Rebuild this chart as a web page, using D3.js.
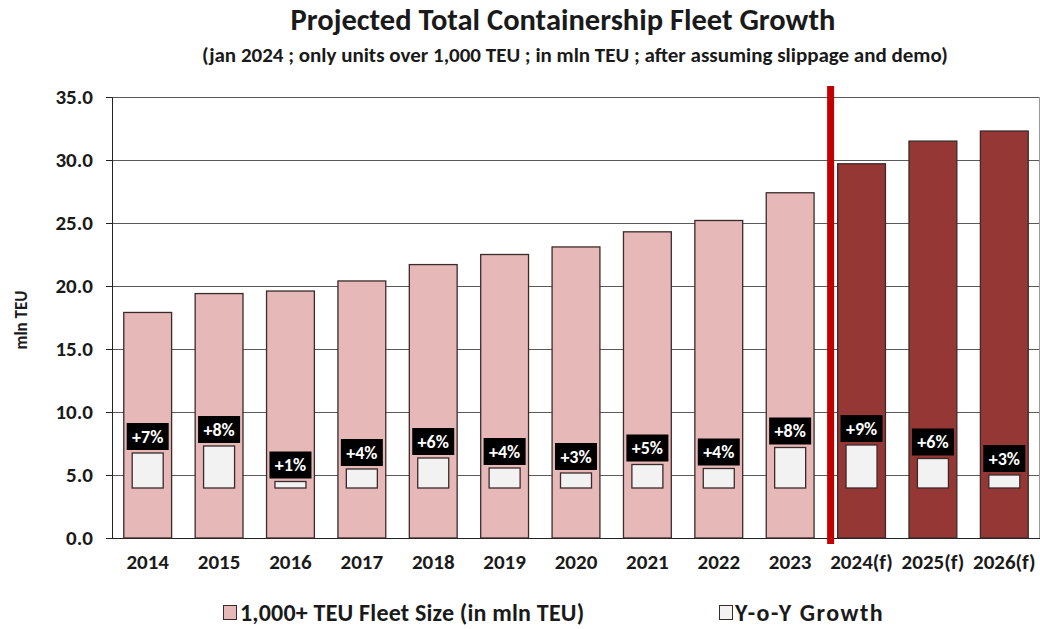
<!DOCTYPE html>
<html>
<head>
<meta charset="utf-8">
<script src="https://cdn.jsdelivr.net/npm/d3@7"></script>
<style>
  html, body { margin: 0; padding: 0; background: #fff; }
  svg { display: block; font-family: Carlito, Lato, "Open Sans", sans-serif; }
</style>
</head>
<body>
<svg id="chart" width="1040" height="629"></svg>
<script>
const categories = ["2014","2015","2016","2017","2018","2019","2020","2021","2022","2023","2024(f)","2025(f)","2026(f)"];
const fleetSize = [17.9, 19.4, 19.6, 20.4, 21.7, 22.5, 23.1, 24.3, 25.2, 27.4, 29.7, 31.5, 32.3];
const growth = [7.0, 8.4, 1.3, 3.8, 6.0, 4.0, 3.0, 4.7, 3.9, 8.1, 8.6, 5.9, 2.6];
const forecast = [false,false,false,false,false,false,false,false,false,false,true,true,true];
const yTicks = [0, 5, 10, 15, 20, 25, 30, 35];
const titleText = "Projected Total Containership Fleet Growth";
const subtitleText = "(jan 2024 ; only units over 1,000 TEU ; in mln TEU ; after assuming slippage and demo)";
const yAxisTitle = "mln TEU";
const legendItems = ["1,000+ TEU Fleet Size (in mln TEU)", "Y-o-Y Growth"];

const svg = d3.select("#chart");
const pL = 112, pR = 1040, pT = 97, pB = 538;

const x = d3.scaleBand().domain(categories).range([pL, pR]).paddingInner(0.33).paddingOuter(0.165);
const y = d3.scaleLinear().domain([0, 35]).range([pB, pT]);
const yG = d3.scaleLinear().domain([-10, 78.2]).range([pB, pT]);

const cLight = "#e6b8b7", cDark = "#953735", cStroke = "#3b2a2a";

// Title
svg.append("text").attr("x", 563).attr("y", 30).attr("text-anchor", "middle")
  .attr("font-size", 30.5).attr("font-weight", "bold").attr("fill", "#1a1a1a").text(titleText);
svg.append("text").attr("x", 575).attr("y", 62).attr("text-anchor", "middle")
  .attr("font-size", 21).attr("font-weight", "bold").attr("fill", "#1a1a1a").text(subtitleText);

// gridlines
svg.append("g").selectAll("line").data(yTicks.filter(d => d > 0)).join("line")
  .attr("x1", pL).attr("x2", pR - 1).attr("y1", d => y(d)).attr("y2", d => y(d))
  .attr("stroke", "#5a5a5a").attr("stroke-width", 1).attr("shape-rendering", "crispEdges");
// right border
svg.append("line").attr("x1", pR - 1).attr("x2", pR - 1).attr("y1", pT).attr("y2", pB)
  .attr("stroke", "#9a9a9a").attr("shape-rendering", "crispEdges");

// y axis
const yAxis = d3.axisLeft(y).tickValues(yTicks).tickFormat(d3.format(".1f")).tickSize(6).tickPadding(13);
const gy = svg.append("g").attr("transform", `translate(${pL},0)`).call(yAxis);
gy.select(".domain").attr("stroke", "#222");
gy.selectAll(".tick line").attr("stroke", "#222");
gy.selectAll(".tick text").attr("font-size", 21).attr("font-weight", "bold").attr("fill", "#1a1a1a")
  .attr("font-family", "Carlito, Lato, sans-serif");

// x axis
const xAxis = d3.axisBottom(x).tickSize(0).tickPadding(16);
const gx = svg.append("g").attr("transform", `translate(0,${pB})`).call(xAxis);
gx.select(".domain").attr("stroke", "#222").attr("d", `M${pL},0.5H${pR}`);
gx.selectAll(".tick text").attr("font-size", 21).attr("font-weight", "bold").attr("fill", "#1a1a1a")
  .attr("font-family", "Carlito, Lato, sans-serif");

// y axis title
svg.append("text").attr("transform", `translate(27,320) rotate(-90)`).attr("text-anchor", "middle")
  .attr("font-size", 17).attr("font-weight", "bold").attr("fill", "#1a1a1a").text(yAxisTitle);

// main bars
svg.append("g").selectAll("rect").data(categories).join("rect")
  .attr("x", d => x(d)).attr("width", x.bandwidth())
  .attr("y", (d, i) => y(fleetSize[i])).attr("height", (d, i) => y(0) - y(fleetSize[i]))
  .attr("fill", (d, i) => forecast[i] ? cDark : cLight)
  .attr("stroke", cStroke).attr("stroke-width", 1.3);

// growth bars
const gw = 31;
svg.append("g").selectAll("rect").data(categories).join("rect")
  .attr("x", d => x(d) + x.bandwidth() / 2 - gw / 2).attr("width", gw)
  .attr("y", (d, i) => yG(growth[i])).attr("height", (d, i) => yG(0) - yG(growth[i]))
  .attr("fill", "#f2f2f2").attr("stroke", cStroke).attr("stroke-width", 1.3);

// growth labels
const lg = svg.append("g").selectAll("g").data(categories).join("g")
  .attr("transform", (d, i) => `translate(${x(d) + x.bandwidth() / 2},${yG(growth[i]) - 3})`);
lg.append("rect").attr("x", -21).attr("y", -27).attr("width", 42).attr("height", 27).attr("fill", "#000");
lg.append("text").attr("x", 0).attr("y", -7.5).attr("text-anchor", "middle")
  .attr("font-size", 18).attr("font-weight", "bold").attr("fill", "#fff")
  .text((d, i) => "+" + Math.round(growth[i]) + "%");

// forecast divider
svg.append("rect").attr("x", x(categories[10]) - 10.5).attr("width", 7)
  .attr("y", 86).attr("height", 458).attr("fill", "#c00000");

// legend
const legend = svg.append("g");
legend.append("rect").attr("x", 223.5).attr("y", 605.5).attr("width", 13).attr("height", 14)
  .attr("fill", cLight).attr("stroke", cStroke).attr("stroke-width", 1);
legend.append("text").attr("x", 240).attr("y", 621).attr("font-size", 24).attr("font-weight", "bold")
  .attr("letter-spacing", 0.2).attr("fill", "#1a1a1a").text(legendItems[0]);
legend.append("rect").attr("x", 719.5).attr("y", 605.5).attr("width", 13).attr("height", 14)
  .attr("fill", "#f2f2f2").attr("stroke", cStroke).attr("stroke-width", 1);
legend.append("text").attr("x", 735).attr("y", 621).attr("font-size", 24).attr("font-weight", "bold")
  .attr("letter-spacing", 1.5).attr("fill", "#1a1a1a").text(legendItems[1]);
</script>
</body>
</html>
